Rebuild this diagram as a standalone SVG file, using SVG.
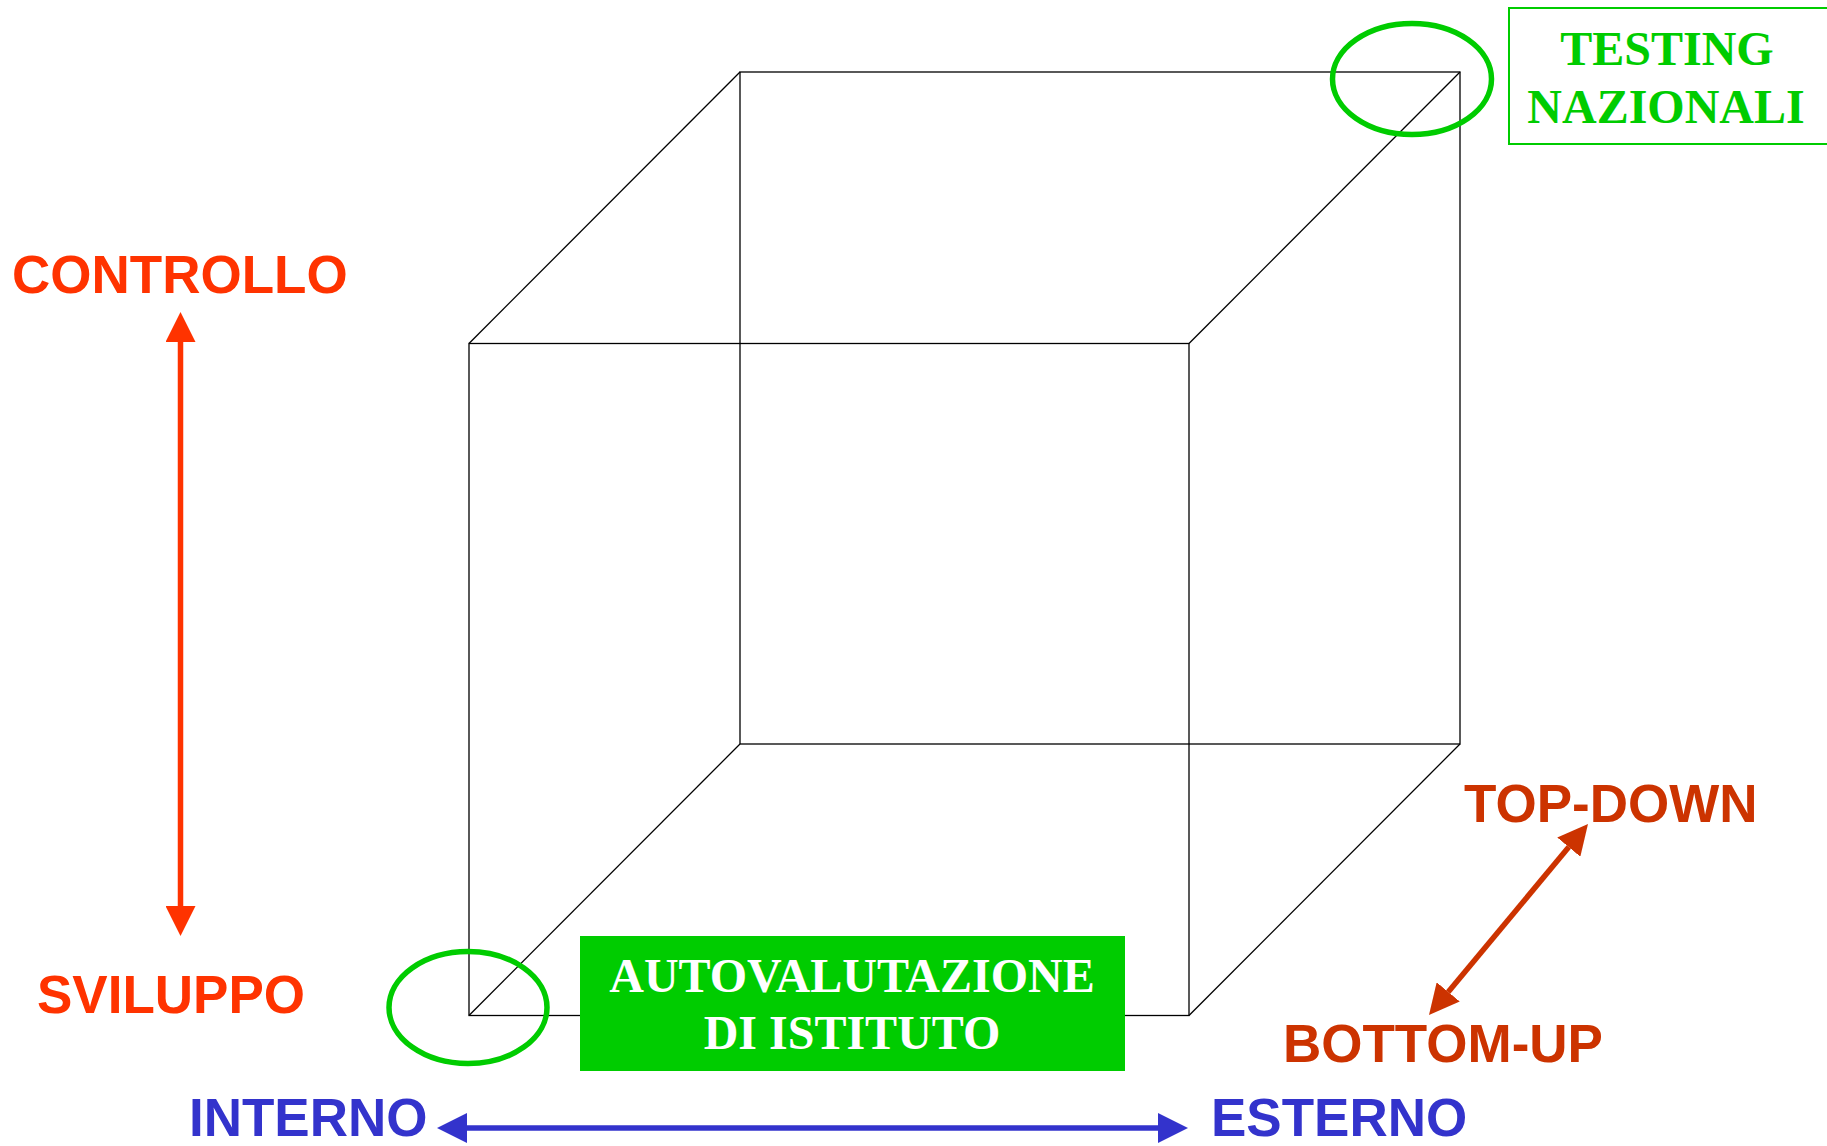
<svg xmlns="http://www.w3.org/2000/svg" width="1827" height="1146" viewBox="0 0 1827 1146">
  <style>
    .edge { stroke: #000; stroke-width: 1.3; fill: none; }
    .lbl { font-family: "Liberation Sans", Arial, sans-serif; font-weight: bold; font-size: 53px; }
    .ser { font-family: "Liberation Serif", "Times New Roman", serif; font-weight: bold; font-size: 48px; text-anchor: middle; }
    .ring { fill: none; stroke: #00CC00; stroke-width: 5.5; }
  </style>
  <defs>
    <marker id="ahRed" viewBox="0 0 30 30" markerWidth="30" markerHeight="30" markerUnits="userSpaceOnUse" refX="0" refY="15" orient="auto-start-reverse">
      <path d="M0,0 L30,15 L0,30 z" fill="#FF3300"/>
    </marker>
    <marker id="ahDark" viewBox="0 0 30 30" markerWidth="30" markerHeight="30" markerUnits="userSpaceOnUse" refX="0" refY="15" orient="auto-start-reverse">
      <path d="M0,0 L30,15 L0,30 z" fill="#CC3300"/>
    </marker>
    <marker id="ahBlue" viewBox="0 0 30 30" markerWidth="30" markerHeight="30" markerUnits="userSpaceOnUse" refX="0" refY="15" orient="auto-start-reverse">
      <path d="M0,0 L30,15 L0,30 z" fill="#3333CC"/>
    </marker>
  </defs>
  <rect width="1827" height="1146" fill="#fff"/>

  <g id="cube">
    <rect class="edge" x="740" y="72" width="720" height="672"/>
    <rect class="edge" x="469" y="343.5" width="720" height="672"/>
    <line class="edge" x1="469" y1="343.5" x2="740" y2="72"/>
    <line class="edge" x1="1189" y1="343.5" x2="1460" y2="72"/>
    <line class="edge" x1="1189" y1="1015.5" x2="1460" y2="744"/>
    <line class="edge" x1="469" y1="1015.5" x2="740" y2="744"/>
  </g>

  <g id="connectors">
    <line x1="180.5" y1="342" x2="180.5" y2="906" stroke="#FF3300" stroke-width="5.5" marker-start="url(#ahRed)" marker-end="url(#ahRed)"/>
    <line x1="467" y1="1128" x2="1158" y2="1128" stroke="#3333CC" stroke-width="5.5" marker-start="url(#ahBlue)" marker-end="url(#ahBlue)"/>
    <line x1="1448.2" y1="991.9" x2="1568.8" y2="847.1" stroke="#CC3300" stroke-width="5.5" marker-start="url(#ahDark)" marker-end="url(#ahDark)"/>
  </g>

  <g id="ring-testing">
    <ellipse class="ring" cx="1412" cy="79" rx="79.5" ry="55.5"/>
  </g>
  <g id="ring-autovalutazione">
    <ellipse class="ring" cx="468" cy="1007.5" rx="79" ry="56"/>
  </g>

  <g id="testing-nazionali">
    <rect x="1509" y="8" width="330" height="136" fill="#fff" stroke="#00CC00" stroke-width="2"/>
    <text class="ser" x="1667" y="65" fill="#00CC00">TESTING</text>
    <text class="ser" x="1666" y="123" fill="#00CC00">NAZIONALI</text>
  </g>

  <g id="autovalutazione">
    <rect x="580" y="936" width="545" height="135" fill="#00CC00"/>
    <text class="ser" x="852" y="992" fill="#fff">AUTOVALUTAZIONE</text>
    <text class="ser" x="852" y="1049" fill="#fff">DI ISTITUTO</text>
  </g>

  <g id="controllo"><text class="lbl" x="12" y="293" fill="#FF3300">CONTROLLO</text></g>
  <g id="sviluppo"><text class="lbl" x="37" y="1013" fill="#FF3300">SVILUPPO</text></g>
  <g id="interno"><text class="lbl" x="189" y="1136" fill="#3333CC">INTERNO</text></g>
  <g id="esterno"><text class="lbl" x="1211" y="1136" fill="#3333CC">ESTERNO</text></g>
  <g id="top-down"><text class="lbl" x="1464" y="822" fill="#CC3300">TOP-DOWN</text></g>
  <g id="bottom-up"><text class="lbl" x="1283" y="1062" fill="#CC3300">BOTTOM-UP</text></g>
</svg>
